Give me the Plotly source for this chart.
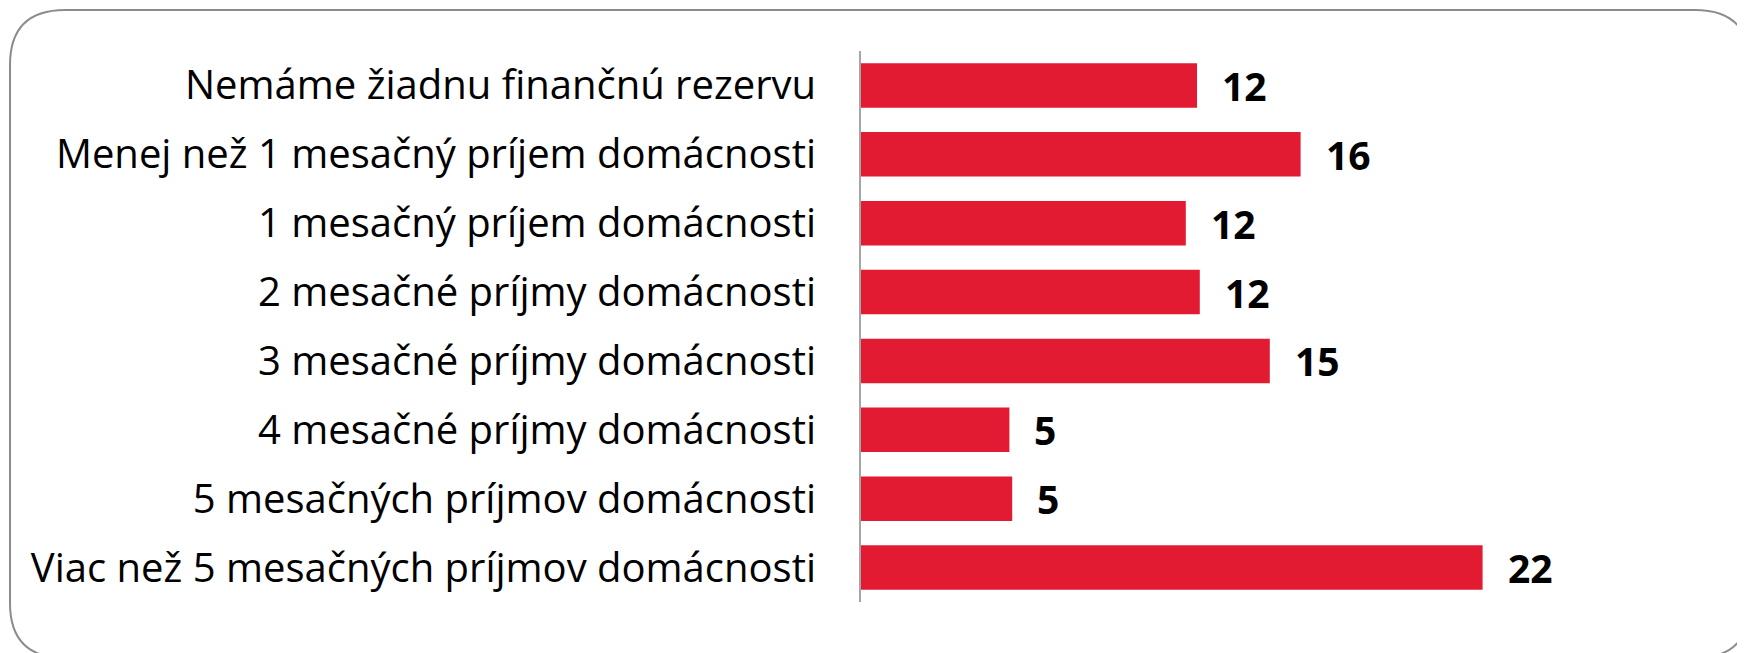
import plotly.graph_objects as go

categories = [
    "Nemáme žiadnu finančnú rezervu",
    "Menej než 1 mesačný príjem domácnosti",
    "1 mesačný príjem domácnosti",
    "2 mesačné príjmy domácnosti",
    "3 mesačné príjmy domácnosti",
    "4 mesačné príjmy domácnosti",
    "5 mesačných príjmov domácnosti",
    "Viac než 5 mesačných príjmov domácnosti",
]
values = [12.0, 15.7, 11.6, 12.1, 14.6, 5.3, 5.4, 22.2]
labels = ["12", "16", "12", "12", "15", "5", "5", "22"]

W, H = 1745, 653
ML, MR, MT, MB = 853, 52, 43, 59
BAR_COLOR = "#E21B33"
FONT = "Open Sans"

fig = go.Figure()
fig.add_trace(go.Bar(
    x=values, y=categories, orientation="h",
    marker=dict(color=BAR_COLOR, line=dict(width=0)),
    width=0.645, hoverinfo="skip",
))

for cat, v, lab in zip(categories, values, labels):
    fig.add_annotation(x=v, y=cat, text=lab, showarrow=False,
                       xanchor="left", yanchor="middle", xshift=23,
                       font=dict(family=FONT, size=39, color="black", weight="bold"))

# rounded border around whole figure (paper coords computed from margins)
pw, ph = W - ML - MR, H - MT - MB
def px(x):
    return (x - ML) / pw
def py(y):
    return (H - MB - y) / ph
x0, x1, y0, y1, r = 2, W - 3, 2, H - 3, 55
path = (f"M {px(x0 + r)},{py(y0)} L {px(x1 - r)},{py(y0)} "
        f"Q {px(x1)},{py(y0)} {px(x1)},{py(y0 + r)} "
        f"L {px(x1)},{py(y1 - r)} Q {px(x1)},{py(y1)} {px(x1 - r)},{py(y1)} "
        f"L {px(x0 + r)},{py(y1)} Q {px(x0)},{py(y1)} {px(x0)},{py(y1 - r)} "
        f"L {px(x0)},{py(y0 + r)} Q {px(x0)},{py(y0)} {px(x0 + r)},{py(y0)} Z")
fig.add_shape(type="path", path=path, xref="paper", yref="paper",
              line=dict(color="#8C8C8C", width=2), layer="above")

fig.update_layout(
    width=W, height=H,
    margin=dict(l=ML, r=MR, t=MT, b=MB, pad=0),
    paper_bgcolor="white", plot_bgcolor="white",
    showlegend=False,
    xaxis=dict(range=[0, 30], visible=False, fixedrange=True),
    yaxis=dict(categoryorder="array", categoryarray=categories[::-1],
               showline=True, linecolor="#A6A6A6", linewidth=2,
               showgrid=False, ticks="", ticklabelstandoff=35,
               tickfont=dict(family=FONT, size=40, color="black"),
               fixedrange=True),
)

fig.write_html("out.html")
